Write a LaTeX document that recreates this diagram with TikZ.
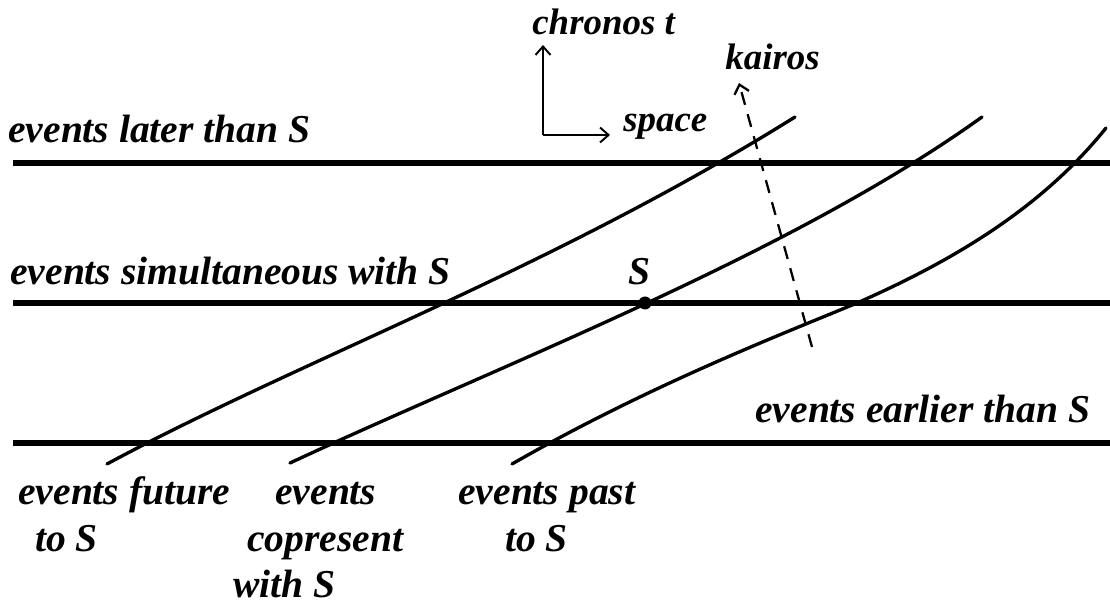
\documentclass[tikz,border=0pt]{standalone}
\usepackage{fontspec}
\setmainfont{Liberation Serif}
\usetikzlibrary{arrows.meta}

\begin{document}
\begin{tikzpicture}[
  x=0.02cm, y=-0.02cm,
  font=\fontsize{22.5}{27}\selectfont\bfseries\itshape,
  lbl/.style={inner sep=0pt, anchor=base west},
  axlbl/.style={lbl, font=\fontsize{21}{25}\selectfont\bfseries\itshape},
  plane/.style={line width=2.9pt},
  worldline/.style={line width=1.9pt, line cap=round},
  axis/.style={-{Straight Barb[length=1.7mm, width=3mm]}, line width=1.1pt},
  kairosline/.style={axis, dash pattern=on 7.5pt off 5.5pt, line width=1.3pt},
  dot/.style={circle, fill=black, inner sep=0pt, minimum size=2.6mm}
]
\useasboundingbox (0,0) rectangle (1110,604);

%% ---------- Planes of simultaneity ----------
\node[lbl] (later)   at (8,143)   {events later than S};
\node[lbl] (simul)   at (10,285)  {events simultaneous with S};
\node[lbl] (earlier) at (755,423) {events earlier than S};

\coordinate (later w) at (13,163);   \coordinate (later e) at (1110,163);
\coordinate (simul w) at (13,303);   \coordinate (simul e) at (1110,303);
\coordinate (earlier w) at (13,443); \coordinate (earlier e) at (1110,443);

\draw[plane] (later w) -- (later e);
\draw[plane] (simul w) -- (simul e);
\draw[plane] (earlier w) -- (earlier e);

%% ---------- World lines ----------
\draw[worldline] (107,464) .. controls (300,360) and (550,270) .. (795,117);
\draw[worldline] (290,463) .. controls (500,365) and (790,255) .. (982,117);
\draw[worldline] (512,464) .. controls (650,385) and (780,335) .. (857,303)
                           .. controls (950,262) and (1040,210) .. (1106,128);

%% ---------- The event S ----------
\node[dot] (sdot) at (645,303) {};
\node[lbl] (slabel) at (628,285) {S};

%% ---------- Axes ----------
\coordinate (origin) at (543,135);
\coordinate (chronos tip) at (543,45);
\coordinate (space tip) at (610,135);
\draw[axis] (origin) -- (chronos tip);
\draw[axis] (origin) -- (space tip);
\node[axlbl] (chronos) at (532,35)  {chronos t};
\node[axlbl] (space)   at (623,132) {space};

% kairos cuts across the world lines
\coordinate (kairos tail) at (812,347);
\coordinate (kairos head) at (739,83);
\draw[kairosline] (kairos tail) -- (kairos head);
\node[axlbl] (kairos) at (725,70) {kairos};

%% ---------- World line labels ----------
\node[lbl] (future a) at (18,505)  {events future};
\node[lbl] (future b) at (35,552)  {to S};
\node[lbl] (copres a) at (275,505) {events};
\node[lbl] (copres b) at (247,552) {copresent};
\node[lbl] (copres c) at (233,598) {with S};
\node[lbl] (past a)   at (458,505) {events past};
\node[lbl] (past b)   at (505,552) {to S};

\end{tikzpicture}
\end{document}
